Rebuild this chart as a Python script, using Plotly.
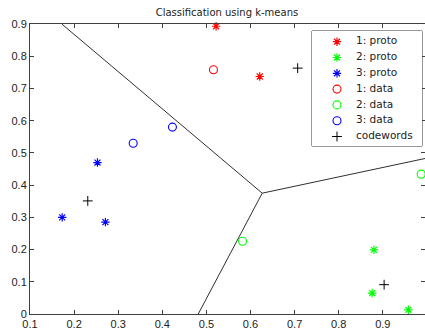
import numpy as np
import plotly.graph_objects as go

# ---- data ----
proto1_x = [0.522, 0.621]
proto1_y = [0.893, 0.737]
proto2_x = [0.880, 0.876, 0.958]
proto2_y = [0.199, 0.065, 0.013]
proto3_x = [0.253, 0.173, 0.271]
proto3_y = [0.470, 0.300, 0.285]
data1_x = [0.516]
data1_y = [0.758]
data2_x = [0.582, 0.987]
data2_y = [0.226, 0.434]
data3_x = [0.423, 0.334]
data3_y = [0.580, 0.530]
code_x = [0.707, 0.231, 0.903]
code_y = [0.763, 0.351, 0.091]
series_names = ["1: proto", "2: proto", "3: proto", "1: data", "2: data", "3: data", "codewords"]
x_ticks = [0.1, 0.2, 0.3, 0.4, 0.5, 0.6, 0.7, 0.8, 0.9]
y_ticks = [0, 0.1, 0.2, 0.3, 0.4, 0.5, 0.6, 0.7, 0.8, 0.9]

XR = [0.1, 0.9957]
YR = [0.0, 0.9]
FONT = "DejaVu Sans, Liberation Sans, Arial"
TICKFONT = "Liberation Sans, Arial, Helvetica"

# Voronoi edges from the codewords
P = np.array(list(zip(code_x, code_y)))
a, b, c = P
d = 2 * (a[0]*(b[1]-c[1]) + b[0]*(c[1]-a[1]) + c[0]*(a[1]-b[1]))
ux = ((a@a)*(b[1]-c[1]) + (b@b)*(c[1]-a[1]) + (c@c)*(a[1]-b[1])) / d
uy = ((a@a)*(c[0]-b[0]) + (b@b)*(a[0]-c[0]) + (c@c)*(b[0]-a[0])) / d
V = np.array([ux, uy])

def clip_ray(o, dirv):
    ts = []
    for k, (lo, hi) in enumerate([XR, YR]):
        if dirv[k] > 1e-12:
            ts.append((hi - o[k]) / dirv[k])
        elif dirv[k] < -1e-12:
            ts.append((lo - o[k]) / dirv[k])
    return o + min(ts) * dirv

edge_x, edge_y = [], []
for i, j in [(0, 1), (1, 2), (0, 2)]:
    pi, pj = P[i], P[j]
    dv = pj - pi
    perp = np.array([-dv[1], dv[0]])
    mid = (pi + pj) / 2
    k = 3 - i - j
    if np.dot(perp, mid - P[k]) < 0:
        perp = -perp
    perp = perp / np.linalg.norm(perp)
    end = clip_ray(V, perp)
    edge_x += [V[0], end[0], None]
    edge_y += [V[1], end[1], None]

fig = go.Figure()
fig.add_trace(go.Scatter(x=edge_x, y=edge_y, mode="lines",
                         line=dict(color="#303030", width=1),
                         showlegend=False, hoverinfo="skip"))

styles = [
    ("asterisk-open", "#ff0000", 7, 1.2),
    ("asterisk-open", "#00ff00", 7, 1.2),
    ("asterisk-open", "#0000ff", 7, 1.2),
    ("circle-open", "#ff0000", 8, 1.1),
    ("circle-open", "#00ff00", 8, 1.1),
    ("circle-open", "#0000ff", 8, 1.1),
    ("cross-thin-open", "#000000", 7, 1.0),
]
series = [(proto1_x, proto1_y), (proto2_x, proto2_y), (proto3_x, proto3_y),
          (data1_x, data1_y), (data2_x, data2_y), (data3_x, data3_y),
          (code_x, code_y)]

for (x, y), name, (sym, col, size, lw) in zip(series, series_names, styles):
    fig.add_trace(go.Scatter(x=x, y=y, mode="markers", name=name, showlegend=False,
                             cliponaxis=False,
                             marker=dict(symbol=sym, size=size, color=col,
                                         line=dict(color=col, width=lw))))

# custom legend on its own axis pair (units = pixels inside the box)
for i, (name, (sym, col, size, lw)) in enumerate(zip(series_names, styles)):
    fig.add_trace(go.Scatter(x=[25], y=[10.7 + 15.8 * i], mode="markers",
                             xaxis="x2", yaxis="y2", showlegend=False, hoverinfo="skip",
                             cliponaxis=False,
                             marker=dict(symbol=sym, size=size, color=col,
                                         line=dict(color=col, width=lw))))
    fig.add_trace(go.Scatter(x=[44], y=[10.7 + 15.8 * i], mode="text", text=[name],
                             textposition="middle right", xaxis="x2", yaxis="y2",
                             showlegend=False, hoverinfo="skip", cliponaxis=False,
                             textfont=dict(family=FONT, size=10.5, color="#222")))

ax = dict(showgrid=False, zeroline=False, showline=True, linecolor="#404040",
          linewidth=1, mirror="ticks", ticks="inside", ticklen=4,
          tickcolor="#404040", tickfont=dict(family=TICKFONT, size=11, color="#222"),
          automargin=False)

def px2paper_x(px):
    return (px - 30) / 395.0

def px2paper_y(py):
    return (314 - py) / 290.0

lx0, lx1, ly0, ly1 = px2paper_x(312), px2paper_x(422), px2paper_y(146), px2paper_y(31)

fig.update_layout(
    width=425, height=329,
    margin=dict(l=30, r=0, t=24, b=15),
    paper_bgcolor="white", plot_bgcolor="white",
    showlegend=False,
    title=dict(text="Classification using k-means", x=0.534, xanchor="center",
               y=0.973, yanchor="top",
               font=dict(family=FONT, size=10, color="#222")),
    xaxis=dict(range=XR, tickvals=x_ticks, ticktext=[f"{v:g}" for v in x_ticks], **ax),
    yaxis=dict(range=YR, tickvals=y_ticks, ticktext=[f"{v:g}" for v in y_ticks], **ax),
    xaxis2=dict(domain=[lx0, lx1], range=[0, 110], visible=False, anchor="y2", fixedrange=True),
    yaxis2=dict(domain=[ly0, ly1], range=[115, 0], visible=False, anchor="x2", fixedrange=True),
    shapes=[dict(type="rect", xref="paper", yref="paper", x0=lx0, x1=lx1, y0=ly0, y1=ly1,
                 line=dict(color="#333", width=1), fillcolor="white", layer="below")],
)

fig.write_html("out.html", config={"displayModeBar": False},
               post_script="document.body.style.margin='0';document.body.style.overflow='hidden';")
